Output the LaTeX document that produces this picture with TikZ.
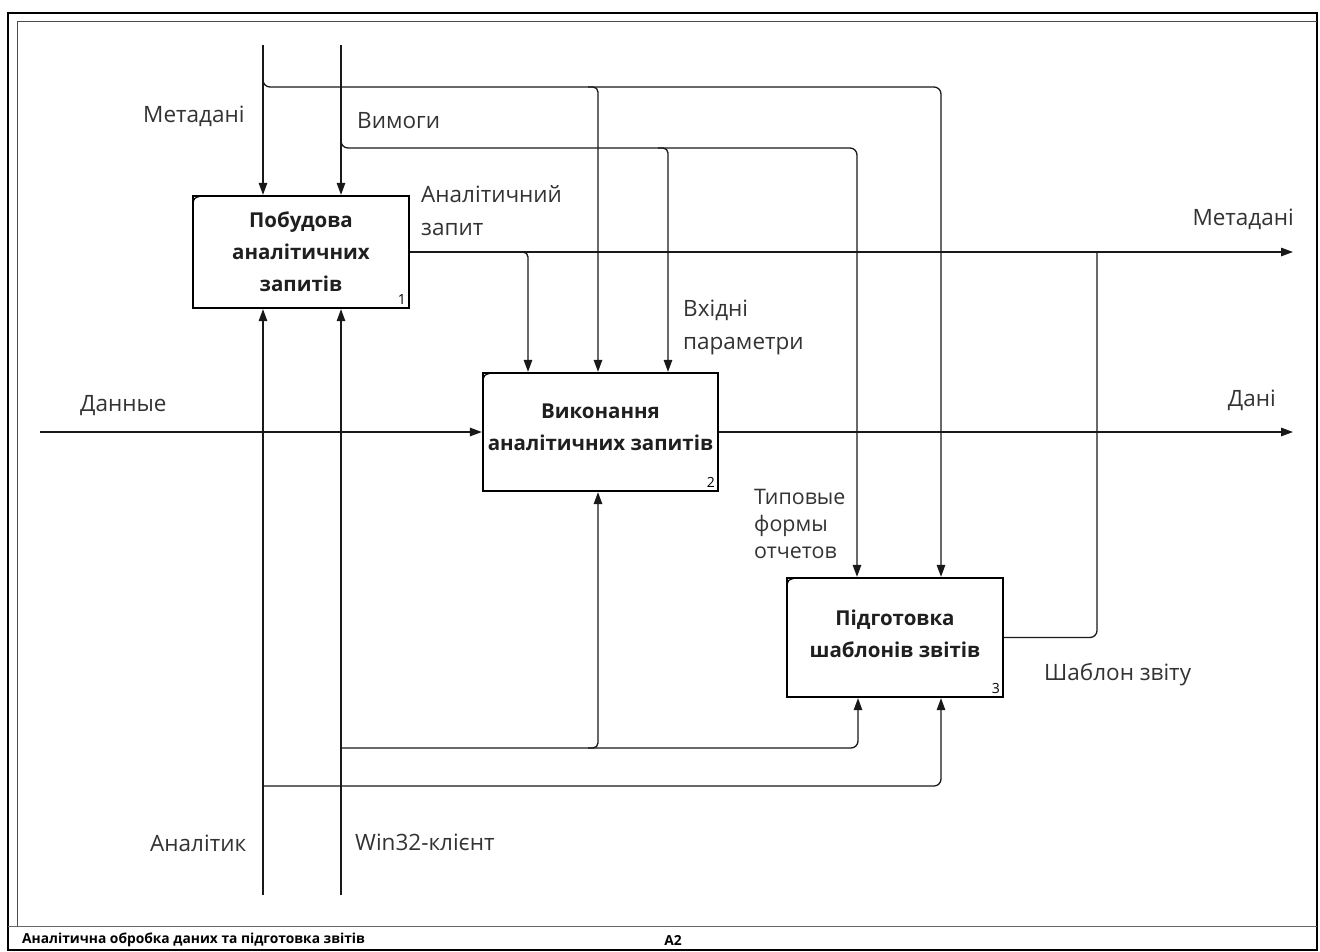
\documentclass[tikz,border=0pt]{standalone}
\usepackage{fontspec}
\setmainfont{Open Sans}
\usetikzlibrary{arrows.meta,calc}
\tikzset{
  wire/.style={line width=1.3pt, draw=black!90},
  arr/.style={wire, -{Triangle[length=12pt,width=8.5pt]}},
  func/.style={draw=black, line width=2.3pt, fill=white, minimum width=216pt, minimum height=112pt,
    align=center, font=\fontsize{20.5}{32}\selectfont\bfseries, text=black!88, inner sep=0pt},
  lbl/.style={font=\fontsize{22.5}{33}\selectfont, text=black!80, align=left, inner sep=0pt},
  num/.style={font=\fontsize{14}{16}\selectfont, inner sep=0pt},
}
\newcommand\boxnotch[1]{%
  \draw[line width=1.2pt] ($(#1.north west)+(1,10)$) .. controls ($(#1.north west)+(2,3)$) .. ($(#1.north west)+(10,1)$);}
\begin{document}
\begin{tikzpicture}[x=1pt,y=-1pt]
\useasboundingbox (0,0) rectangle (1320,951);
\fill[white] (0,0) rectangle (1320,951);
% sheet frame
\draw[line width=2.5pt] (8,13) -- (1317,13) -- (1317,950) -- (8,950) -- cycle;
\draw[line width=0.9pt, black!70] (17,21) -- (1317,21);
\draw[line width=0.9pt, black!70] (17,21) -- (17,926);
\draw[line width=1pt, black!60] (8,926) -- (1317,926);
\node[anchor=west, font=\fontsize{13.8}{15}\selectfont\bfseries, inner sep=0pt] (title) at (22,940) {Аналітична обробка даних та підготовка звітів};
\node[font=\fontsize{13.8}{15}\selectfont\bfseries, inner sep=0pt] (sheet) at (673,940) {A2};

% activity boxes
\node[func] (b1) at (301,252) {Побудова\\аналітичних\\запитів};
\node[func, minimum width=235pt, minimum height=118pt] (b2) at (600.5,432) {Виконання\\аналітичних запитів\\[-22pt]};
\node[func, minimum height=119pt] (b3) at (895,637.5) {Підготовка\\шаблонів звітів\\[-24pt]};
\boxnotch{b1}\boxnotch{b2}\boxnotch{b3}
\node[num, anchor=south east] (n1) at ($(b1.south east)+(-4,-4)$) {1};
\node[num, anchor=south east] (n2) at ($(b2.south east)+(-4,-4)$) {2};
\node[num, anchor=south east] (n3) at ($(b3.south east)+(-4,-4)$) {3};

% boundary points
\coordinate (mtop) at (263,45);
\coordinate (vtop) at (341,45);
\coordinate (abot) at (263,895);
\coordinate (wbot) at (341,895);
\coordinate (din)  at (40,432);
\coordinate (dout) at (1293,432);
\coordinate (mout) at (1293,252);
% branch points
\coordinate (m2) at (598,87);
\coordinate (m3) at (941,87);
\coordinate (v2) at (668,148);
\coordinate (v3) at (857,148);
\coordinate (q2) at (528,252);
\coordinate (tp) at (1097,252);
\coordinate (w2) at (598,748);
\coordinate (w3) at (858,748);
\coordinate (a3) at (941,786);

% controls
\draw[arr] (mtop) -- (mtop |- b1.north);
\draw[arr] (vtop) -- (vtop |- b1.north);
\draw[arr, rounded corners=7pt] ($(mtop |- m3)+(0,-10)$) -- (mtop |- m3) -- (m3) -- (m3 |- b3.north);
\draw[arr, rounded corners=5pt] ($(m2)+(-10,0)$) -- (m2) -- (m2 |- b2.north);
\draw[arr, rounded corners=7pt] ($(vtop |- v3)+(0,-10)$) -- (vtop |- v3) -- (v3) -- (v3 |- b3.north);
\draw[arr, rounded corners=5pt] ($(v2)+(-10,0)$) -- (v2) -- (v2 |- b2.north);
\draw[arr, rounded corners=5pt] ($(q2)+(-10,0)$) -- (q2) -- (q2 |- b2.north);

% inputs and outputs
\draw[arr] (b1.east) -- (mout);
\draw[arr] (din) -- (b2.west);
\draw[arr] (b2.east) -- (dout);
\draw[wire, rounded corners=7pt] (b3.east) -- (b3.east -| tp) -- (tp);

% mechanisms
\draw[arr] (abot) -- (abot |- b1.south);
\draw[arr] (wbot) -- (wbot |- b1.south);
\draw[arr, rounded corners=7pt] (wbot |- w3) -- (w3) -- (w3 |- b3.south);
\draw[arr, rounded corners=5pt] ($(w2)+(-10,0)$) -- (w2) -- (w2 |- b2.south);
\draw[arr, rounded corners=7pt] (abot |- a3) -- (a3) -- (a3 |- b3.south);

% arrow labels
\node[lbl, anchor=west] (l1) at (143,116) {Метадані};
\node[lbl, anchor=west] (l2) at (357,121) {Вимоги};
\node[lbl, anchor=west] (l3) at (421,211) {Аналітичний\\запит};
\node[lbl, anchor=east] (l4) at (1294,219) {Метадані};
\node[lbl, anchor=west] (l5) at (683,327) {Вхідні\\параметри};
\node[lbl, anchor=west] (l6) at (80,406) {Данные};
\node[lbl, anchor=east] (l7) at (1276,400) {Дані};
\node[lbl, anchor=west, font=\fontsize{21.4}{27}\selectfont] (l8) at (754,524) {Типовые\\формы\\отчетов};
\node[lbl, anchor=west] (l9) at (1044,675) {Шаблон звіту};
\node[lbl, anchor=west] (l10) at (150,843) {Аналітик};
\node[lbl, anchor=west] (l11) at (355,842) {Win32-клієнт};
\end{tikzpicture}
\end{document}
